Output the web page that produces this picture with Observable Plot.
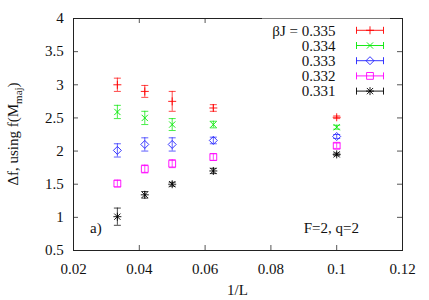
<!DOCTYPE html>
<html><head><meta charset="utf-8">
<script src="https://cdn.jsdelivr.net/npm/d3@7"></script>
<script src="https://cdn.jsdelivr.net/npm/@observablehq/plot@0.6"></script>
<style>body{margin:0;background:#fff} #chart{width:429px;height:300px} svg text{font-family:"Liberation Serif","Times New Roman",serif}</style>
</head><body><div id="chart"></div>
<script>
// ---- data ----
const invL = [1/30, 1/24, 1/20, 1/16, 1/10];
const betaJ = ["0.335", "0.334", "0.333", "0.332", "0.331"];
const val335 = [3.00, 2.90, 2.75, 2.65, 2.51];
const err335 = [0.10, 0.09, 0.15, 0.05, 0.02];
const val334 = [2.59, 2.50, 2.40, 2.40, 2.36];
const err334 = [0.10, 0.10, 0.09, 0.05, 0.03];
const val333 = [2.01, 2.10, 2.10, 2.16, 2.22];
const err333 = [0.10, 0.10, 0.10, 0.05, 0.03];
const val332 = [1.51, 1.73, 1.81, 1.91, 2.08];
const err332 = [0.05, 0.06, 0.06, 0.05, 0.04];
const val331 = [1.01, 1.34, 1.50, 1.70, 1.95];
const err331 = [0.13, 0.05, 0.03, 0.04, 0.02];
const xTicks = [0.02, 0.04, 0.06, 0.08, 0.1, 0.12];
const yTicks = [0.5, 1, 1.5, 2, 2.5, 3, 3.5, 4];
const colors = ["#ff0000", "#00e800", "#2020ff", "#ff00ff", "#000000"];

const values = [val335, val334, val333, val332, val331];
const errors = [err335, err334, err333, err332, err331];

// ---- custom gnuplot-like symbols ----
const R = s => Math.sqrt(s / Math.PI);
const symPlus = {draw(c, s){const h=R(s); c.moveTo(-h,0); c.lineTo(h,0); c.moveTo(0,-h); c.lineTo(0,h);}};
const symTimes = {draw(c, s){const h=R(s)*0.78; c.moveTo(-h,-h); c.lineTo(h,h); c.moveTo(-h,h); c.lineTo(h,-h);}};
const symDiamond = {draw(c, s){const h=R(s); c.moveTo(0,-h); c.lineTo(h,0); c.lineTo(0,h); c.lineTo(-h,0); c.closePath();}};
const symSquare = {draw(c, s){const h=R(s)*0.85; c.moveTo(-h,-h); c.lineTo(h,-h); c.lineTo(h,h); c.lineTo(-h,h); c.closePath();}};
const symAster = {draw(c, s){symPlus.draw(c, s); symTimes.draw(c, s);}};
const symCap = {draw(c, s){const h=R(s); c.moveTo(-h,0); c.lineTo(h,0);}};
const symbols = [symPlus, symTimes, symDiamond, symSquare, symAster];

const rows = [];
betaJ.forEach((b, i) => invL.forEach((x, j) => rows.push({b, i, x, y: values[i][j], e: errors[i][j]})));

const FONT = '"Liberation Serif", "Times New Roman", serif';
const SW = 0.9;
const marks = [];
betaJ.forEach((b, i) => {
  const d = rows.filter(r => r.i === i);
  marks.push(Plot.ruleX(d, {x: "x", y1: r => r.y - r.e, y2: r => r.y + r.e, stroke: colors[i], strokeWidth: SW, strokeOpacity: 0.8}));
  marks.push(Plot.dot(d, {x: "x", y: r => r.y - r.e, symbol: symCap, r: 3.5, stroke: colors[i], fill: "none", strokeWidth: SW, strokeOpacity: 0.8}));
  marks.push(Plot.dot(d, {x: "x", y: r => r.y + r.e, symbol: symCap, r: 3.5, stroke: colors[i], fill: "none", strokeWidth: SW, strokeOpacity: 0.8}));
  marks.push(Plot.dot(d, {x: "x", y: "y", symbol: symbols[i], r: 4, stroke: colors[i], fill: "none", strokeWidth: SW}));
});

const plot = Plot.plot({
  width: 429, height: 300,
  marginLeft: 73, marginRight: 27, marginTop: 18, marginBottom: 50,
  style: {fontFamily: FONT, fontSize: "15px", color: "#111", background: "white"},
  x: {domain: [0.02, 0.12], axis: null},
  y: {domain: [0.5, 4], axis: null},
  marks: [
    Plot.tickX(xTicks.slice(1, -1), {x: d => d, insetTop: 227, stroke: "#555"}),
    Plot.tickX(xTicks.slice(1, -1), {x: d => d, insetBottom: 227, stroke: "#555"}),
    Plot.tickY(yTicks.slice(1, -1), {y: d => d, insetRight: 324, stroke: "#555"}),
    Plot.tickY(yTicks.slice(1, -1), {y: d => d, insetLeft: 324, stroke: "#555"}),
    Plot.axisX(xTicks, {tickSize: 0, tickPadding: 12.4, tickFormat: d => String(+d.toFixed(2)), fontSize: 15, fontFamily: FONT, label: null}),
    Plot.axisY(yTicks, {tickSize: 0, tickPadding: 9.7, tickFormat: d => String(+d.toFixed(2)), fontSize: 15, fontFamily: FONT, label: null}),
    ...marks,
    Plot.frame({stroke: "#222", strokeWidth: 1})
  ]
});
document.getElementById("chart").appendChild(plot);

// ---- extra text and key ----
const svg = d3.select(plot);
const txt = (x, y, s, anchor) => svg.append("text").attr("x", x).attr("y", y)
  .attr("text-anchor", anchor || "start").attr("font-family", FONT).attr("font-size", 15).attr("fill", "#111").text(s);
txt(237.5, 295, "1/L", "middle");
txt(90, 233, "a)");
txt(359, 233, "F=2, q=2", "end");

const yl = svg.append("text").attr("transform", "translate(18,134) rotate(-90)")
  .attr("text-anchor", "middle").attr("font-family", FONT).attr("font-size", 15).attr("fill", "#111");
yl.append("tspan").text("Δf, using f(M");
yl.append("tspan").attr("font-size", 11).attr("dy", 4).text("maj");
yl.append("tspan").attr("dy", -4).text(")");

const leg = svg.append("g");
leg.append("rect").attr("x", 262).attr("y", 18.6).attr("width", 128).attr("height", 82).attr("fill", "white");
betaJ.forEach((b, i) => {
  const cy = 30.3 + 15.2 * i;
  leg.append("text").attr("x", 335.5).attr("y", cy + 5.3).attr("text-anchor", "end")
    .attr("font-family", FONT).attr("font-size", 15).attr("fill", "#111").text(i === 0 ? "βJ = " + b : b);
  leg.append("path").attr("d", `M356.5,${cy}H383.5M356.5,${cy - 3.5}V${cy + 3.5}M383.5,${cy - 3.5}V${cy + 3.5}`)
    .attr("stroke", colors[i]).attr("fill", "none").attr("stroke-width", SW);
  const p = d3.path(); symbols[i].draw(p, 16 * Math.PI);
  leg.append("path").attr("d", p.toString()).attr("transform", `translate(370,${cy})`)
    .attr("stroke", colors[i]).attr("fill", "none").attr("stroke-width", SW);
});
</script>
</body></html>
